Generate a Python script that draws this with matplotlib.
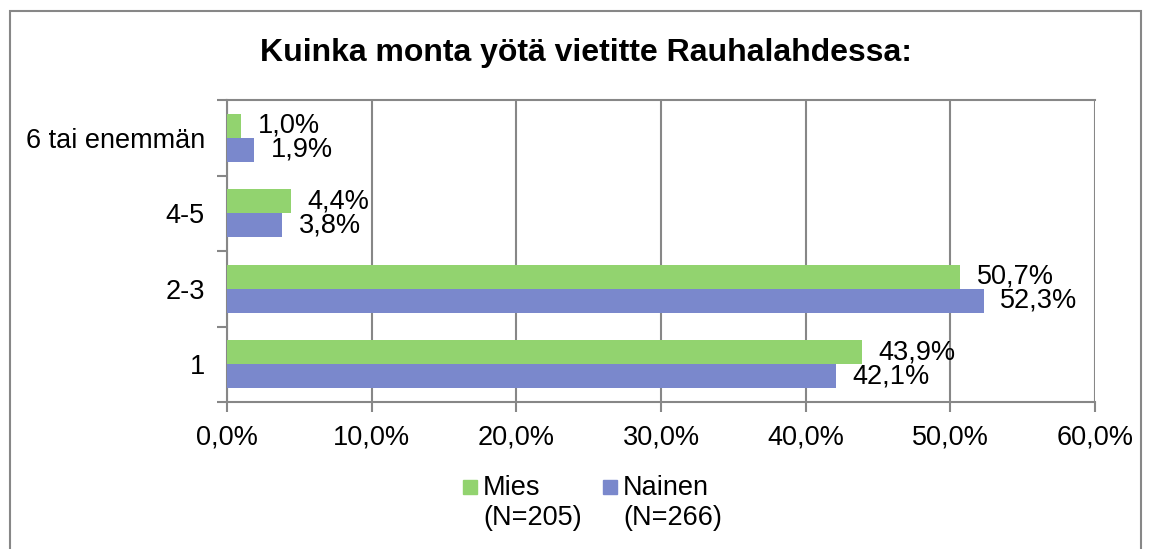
import matplotlib.pyplot as plt
from matplotlib.patches import Rectangle
import numpy as np

categories = ['1', '2-3', '4-5', '6 tai enemmän']
mies = [43.9, 50.7, 4.4, 1.0]
nainen = [42.1, 52.3, 3.8, 1.9]
series_names = ['Mies\n(N=205)', 'Nainen\n(N=266)']
title = 'Kuinka monta yötä vietitte Rauhalahdessa:'

green = '#92D36F'
blue = '#7A88CC'
grey = '#878787'
fs = 19.5

plt.rcParams['font.family'] = ['Liberation Sans', 'DejaVu Sans']

W, H = 1152, 549
fig = plt.figure(figsize=(W / 100, H / 100), dpi=100)

# outer chart frame
fig.patches.append(Rectangle((10 / W, -0.05), (1141 - 10) / W, (H - 11) / H + 0.05,
                             transform=fig.transFigure, fill=False,
                             edgecolor=grey, linewidth=1.5))

ax = fig.add_axes([227 / W, 1 - 402 / H, (1095 - 227) / W, (402 - 100) / H])

y = np.arange(len(categories))
h = 0.32
ax.barh(y + h / 2, mies, height=h, color=green, zorder=3)
ax.barh(y - h / 2, nainen, height=h, color=blue, zorder=3)

for yi, v in zip(y + h / 2, mies):
    ax.annotate(f'{v:.1f}%'.replace('.', ','), (v, yi), xytext=(12, 0),
                textcoords='offset points', va='center', ha='left', fontsize=fs)
for yi, v in zip(y - h / 2, nainen):
    ax.annotate(f'{v:.1f}%'.replace('.', ','), (v, yi), xytext=(12, 0),
                textcoords='offset points', va='center', ha='left', fontsize=fs)

ax.set_xlim(0, 60)
ax.set_ylim(-0.5, len(categories) - 0.5)
ax.set_xticks(range(0, 61, 10))
ax.set_xticklabels([f'{t:.1f}%'.replace('.', ',') for t in range(0, 61, 10)], fontsize=fs)
ax.set_yticks(y)
ax.set_yticklabels(categories, fontsize=fs)
ax.set_yticks(np.arange(-0.5, len(categories), 1), minor=True)
ax.tick_params(axis='y', which='major', length=0, pad=16)
ax.tick_params(axis='y', which='minor', length=7, width=1.5, color=grey)
ax.tick_params(axis='x', length=7, width=1.5, color=grey, pad=9)
ax.grid(axis='x', color=grey, linewidth=1.5, zorder=0)
for s in ax.spines.values():
    s.set_color(grey)
    s.set_linewidth(1.5)
ax.spines['right'].set_visible(False)

fig.text(586 / W, 1 - 53 / H, title, ha='center', va='center',
         fontsize=23, fontweight='bold')

# legend
for x0, c, name in [(463, green, series_names[0]), (603, blue, series_names[1])]:
    fig.patches.append(Rectangle((x0 / W, 1 - 494 / H), 14 / W, 14 / H,
                                 transform=fig.transFigure, color=c))
    fig.text((x0 + 20) / W, 1 - 475 / H, name, ha='left', va='top',
             fontsize=fs, linespacing=1.2)

fig.savefig('out.png', dpi=100)
